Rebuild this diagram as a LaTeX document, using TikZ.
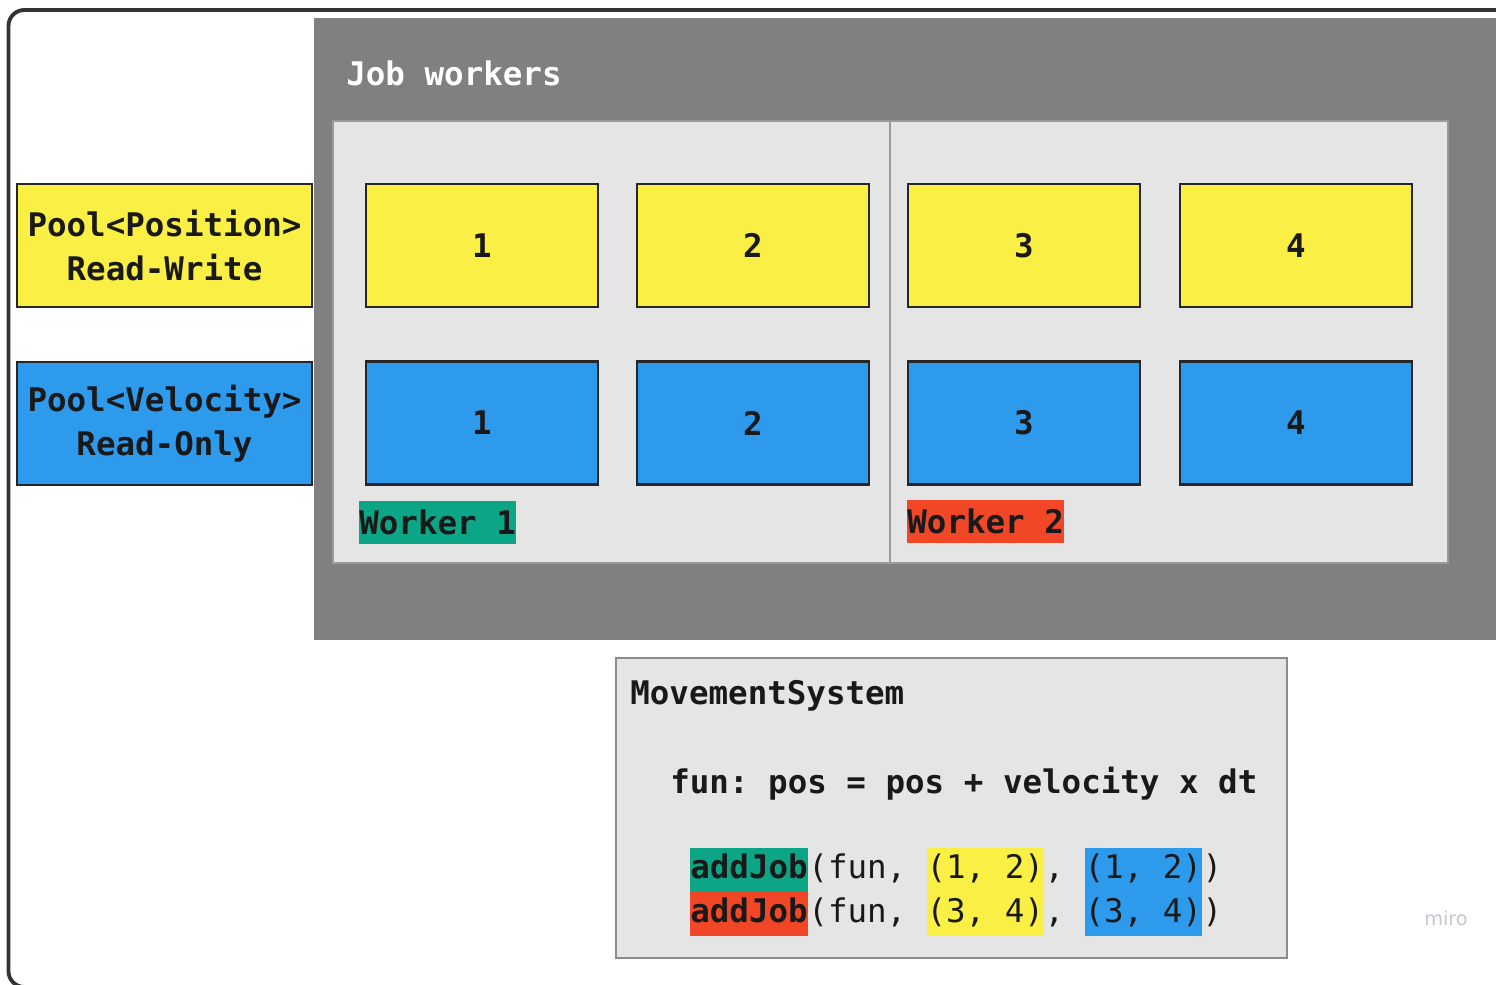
\documentclass[tikz,border=0pt]{standalone}
\usepackage{fontspec}
\setmonofont{DejaVu Sans Mono}
\setsansfont{DejaVu Sans}
\usetikzlibrary{positioning}
\definecolor{posyellow}{HTML}{F9EF45}
\definecolor{velblue}{HTML}{2D9AEC}
\definecolor{wgreen}{HTML}{0CA585}
\definecolor{wred}{HTML}{F24726}
\definecolor{jobgray}{HTML}{808080}
\definecolor{panelgray}{HTML}{E5E5E5}
\definecolor{framegray}{HTML}{333333}
\definecolor{mirogray}{HTML}{C5C5D3}
\begin{document}
\begin{tikzpicture}[x=0.02cm,y=-0.02cm,
    every node/.style={font=\ttfamily\bfseries\fontsize{18.5}{25}\selectfont, text=black!90},
    cell/.style={draw=black!85, line width=1.3pt, minimum width=4.64cm, minimum height=2.46cm, inner sep=0pt},
    pool/.style={cell, minimum width=5.9cm, align=center},
    tag/.style={inner sep=0pt, minimum height=0.86cm, anchor=west},
    code/.style={inner sep=0pt, minimum height=0.88cm, text height=14pt, text depth=4pt},
    plain/.style={code, font=\ttfamily\fontsize{18.5}{25}\selectfont}]
  \clip (0,0) rectangle (1496,984);
  \draw[framegray, line width=2.2pt, rounded corners=9pt] (8.5,10) rectangle (1600,987);

  % job workers
  \fill[jobgray] (314,18) rectangle (1600,640);
  \node[anchor=west, inner sep=0pt, text=white] (title) at (346,73) {Job workers};
  \draw[black!40, line width=0.6pt, fill=panelgray] (333,121) rectangle (890,563);
  \draw[black!40, line width=0.6pt, fill=panelgray] (890,121) rectangle (1448,563);
  \foreach \x/\n in {482/1,753/2,1024/3,1296/4}{
    \node[cell, fill=posyellow] (pos\n) at (\x,245.5) {\n};
    \node[cell, fill=velblue] (vel\n) at (\x,423) {\n};
  }
  \node[tag, fill=wgreen] (w1) at (359,522.5) {Worker 1};
  \node[tag, fill=wred] (w2) at (907,521.5) {Worker 2};

  % pools
  \node[pool, fill=posyellow] (posPool) at (164.5,245.5) {Pool<Position>\\Read-Write};
  \node[pool, fill=velblue] (velPool) at (164.5,423.5) {Pool<Velocity>\\Read-Only};

  % system
  \node[draw=black!45, line width=1.1pt, fill=panelgray, minimum width=13.42cm, minimum height=6cm, inner sep=0pt] (move) at (951.5,808) {};
  \node[anchor=west, inner sep=0pt] (sysname) at (630,696) {MovementSystem};
  \node[anchor=west, inner sep=0pt] (fun) at (670,784) {fun: pos = pos + velocity x dt};

  \node[code, fill=wgreen, anchor=west] (j1) at (690,870) {addJob};
  \node[plain, right=0pt of j1] (j1a) {(fun,\phantom{x}};
  \node[plain, fill=posyellow, right=0pt of j1a] (j1b) {(1,~2)};
  \node[plain, right=0pt of j1b] (j1c) {,\phantom{x}};
  \node[plain, fill=velblue, right=0pt of j1c] (j1d) {(1,~2)};
  \node[plain, right=0pt of j1d] (j1e) {)};

  \node[code, fill=wred, anchor=west] (j2) at (690,914) {addJob};
  \node[plain, right=0pt of j2] (j2a) {(fun,\phantom{x}};
  \node[plain, fill=posyellow, right=0pt of j2a] (j2b) {(3,~4)};
  \node[plain, right=0pt of j2b] (j2c) {,\phantom{x}};
  \node[plain, fill=velblue, right=0pt of j2c] (j2d) {(3,~4)};
  \node[plain, right=0pt of j2d] (j2e) {)};

  \node[font=\sffamily\fontsize{11}{13}\selectfont, text=mirogray] (miro) at (1446,918) {miro};
\end{tikzpicture}
\end{document}
